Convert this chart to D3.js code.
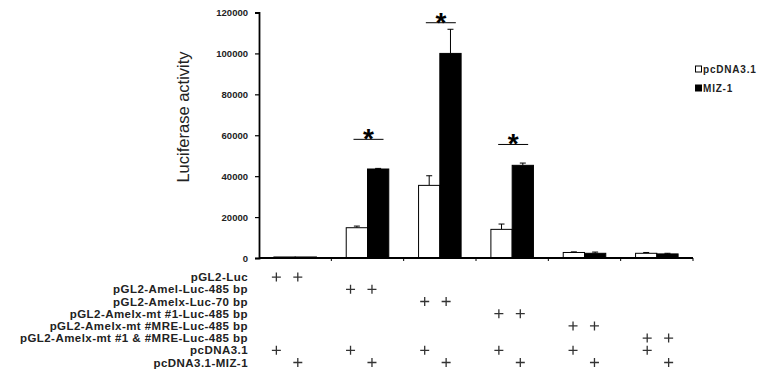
<!DOCTYPE html>
<html>
<head>
<meta charset="utf-8">
<script src="https://cdn.jsdelivr.net/npm/d3@7"></script>
<style>
  body { margin: 0; background: #fff; }
  svg { display: block; font-family: "Liberation Sans", Arial, sans-serif; }
</style>
</head>
<body>
<svg id="chart" width="766" height="380"></svg>
<script>
// constructs, one per group of bars
const constructs = [
  'pGL2-Luc',
  'pGL2-Amel-Luc-485 bp',
  'pGL2-Amelx-Luc-70 bp',
  'pGL2-Amelx-mt #1-Luc-485 bp',
  'pGL2-Amelx-mt #MRE-Luc-485 bp',
  'pGL2-Amelx-mt #1 & #MRE-Luc-485 bp'
];
const series = ['pcDNA3.1', 'MIZ-1'];
const effectors = ['pcDNA3.1', 'pcDNA3.1-MIZ-1'];

const pcdnaValues = [500, 14800, 35500, 14000, 2700, 2300];
const pcdnaErrors = [0, 800, 4700, 2600, 300, 400];
const mizValues = [500, 43500, 100000, 45300, 2300, 2000];
const mizErrors = [0, 300, 11800, 1100, 600, 300];

// significance: group index and bar level (luciferase units)
const sigGroups = [1, 2, 3];
const sigLevels = [58000, 115000, 55500];

const yTicks = [0, 20000, 40000, 60000, 80000, 100000, 120000];

const svg = d3.select('#chart');

const x = d3.scaleBand().domain(constructs).range([259, 693]);
const xs = d3.scaleBand().domain(series).range([0, x.bandwidth()]).paddingOuter(0.7);
const y = d3.scaleLinear().domain([0, 120000]).range([258, 12.5]);

const bars = series.map((s, si) => constructs.map((c, i) => ({
  c, s, si,
  v: si === 0 ? pcdnaValues[i] : mizValues[i],
  e: si === 0 ? pcdnaErrors[i] : mizErrors[i]
})));

// Error bars (upward only)
const errG = svg.append('g').attr('stroke', '#000').attr('stroke-width', 1);
bars.flat().filter(d => d.e > 0).forEach(d => {
  const cx = x(d.c) + xs(d.s) + xs.bandwidth() / 2;
  errG.append('line').attr('x1', cx).attr('x2', cx)
    .attr('y1', y(d.v)).attr('y2', y(d.v + d.e));
  errG.append('line').attr('x1', cx - 3).attr('x2', cx + 3)
    .attr('y1', y(d.v + d.e)).attr('y2', y(d.v + d.e));
});

// Bars
svg.append('g')
  .selectAll('rect')
  .data(bars.flat())
  .join('rect')
  .attr('x', d => x(d.c) + xs(d.s))
  .attr('y', d => y(d.v))
  .attr('width', xs.bandwidth())
  .attr('height', d => y(0) - y(d.v))
  .attr('fill', d => d.si === 0 ? '#fff' : '#000')
  .attr('stroke', '#000')
  .attr('stroke-width', 1);

// Y axis
const yAxis = svg.append('g')
  .attr('transform', 'translate(259,0)')
  .call(d3.axisLeft(y).tickValues(yTicks).tickSize(4).tickPadding(7).tickFormat(d3.format('d')));
yAxis.select('.domain').attr('stroke-width', 1.8);
yAxis.selectAll('.tick line').attr('stroke-width', 1.2);
yAxis.selectAll('text')
  .attr('font-size', 9.5).attr('font-weight', 'bold')
  .attr('font-family', '"Liberation Sans", Arial, sans-serif')
  .attr('fill', '#222');

svg.append('text')
  .attr('transform', 'translate(189,117) rotate(-90)')
  .attr('text-anchor', 'middle')
  .attr('font-size', 16.5)
  .attr('fill', '#222')
  .text('Luciferase activity');

// X axis with ticks at group boundaries
const xAxis = svg.append('g');
xAxis.append('line')
  .attr('x1', x.range()[0]).attr('x2', x.range()[1])
  .attr('y1', y(0)).attr('y2', y(0))
  .attr('stroke', '#000').attr('stroke-width', 1.8);
xAxis.selectAll('.bt')
  .data(constructs.slice(1).map(c => x(c)).concat([x.range()[1]]))
  .join('line')
  .attr('x1', d => d).attr('x2', d => d)
  .attr('y1', y(0)).attr('y2', y(0) + 3)
  .attr('stroke', '#000').attr('stroke-width', 1);

// Significance bars and asterisks
sigGroups.forEach((gi, k) => {
  const cx = x(constructs[gi]) + x.bandwidth() / 2 + 1;
  const ly = y(sigLevels[k]);
  svg.append('line')
    .attr('x1', cx - 15).attr('x2', cx + 15)
    .attr('y1', ly).attr('y2', ly)
    .attr('stroke', '#000').attr('stroke-width', 1);
  svg.append('text')
    .attr('x', cx).attr('y', ly + 9)
    .attr('text-anchor', 'middle')
    .attr('font-size', 28).attr('font-weight', 'bold')
    .text('*');
});

// Legend
const legend = svg.append('g').attr('transform', 'translate(695,0)');
series.forEach((s, i) => {
  const ly = 66 + i * 19;
  legend.append('rect')
    .attr('x', 0.5).attr('y', ly)
    .attr('width', 6).attr('height', 6)
    .attr('fill', i === 0 ? '#fff' : '#000')
    .attr('stroke', '#000').attr('stroke-width', 1);
  legend.append('text')
    .attr('x', 8).attr('y', ly + 6.5)
    .attr('font-size', 10).attr('font-weight', 'bold')
    .attr('letter-spacing', 0.8)
    .attr('fill', '#222')
    .text(s);
});

// Transfection table
const rowLabels = constructs.concat(effectors);
const tx = d3.scaleBand().domain(constructs).range([250, 695]);
const txs = d3.scaleBand().domain(series).range([0, tx.bandwidth()]).paddingOuter(0.73);
const ty = d3.scaleBand().domain(rowLabels).range([271, 368.6]);

const table = svg.append('g').attr('fill', '#222');
table.selectAll('.rl')
  .data(rowLabels)
  .join('text')
  .attr('x', 248)
  .attr('y', d => ty(d) + ty.bandwidth() / 2 + 4)
  .attr('text-anchor', 'end')
  .attr('font-size', 11.5).attr('font-weight', 'bold')
  .attr('letter-spacing', 0.45)
  .text(d => d);

const plusCells = [];
rowLabels.forEach((r, ri) => {
  constructs.forEach((c, ci) => {
    series.forEach((s, si) => {
      const on = ri < constructs.length ? ri === ci : (ri - constructs.length) === si;
      if (on) plusCells.push({ r, c, s });
    });
  });
});
table.selectAll('.pl')
  .data(plusCells)
  .join('path')
  .attr('transform', d => `translate(${tx(d.c) + txs(d.s) + txs.bandwidth() / 2},${ty(d.r) + ty.bandwidth() / 2})`)
  .attr('d', 'M-4.5,0H4.5M0,-4.5V4.5')
  .attr('fill', 'none')
  .attr('stroke', '#333')
  .attr('stroke-width', 1.3);
</script>
</body>
</html>
